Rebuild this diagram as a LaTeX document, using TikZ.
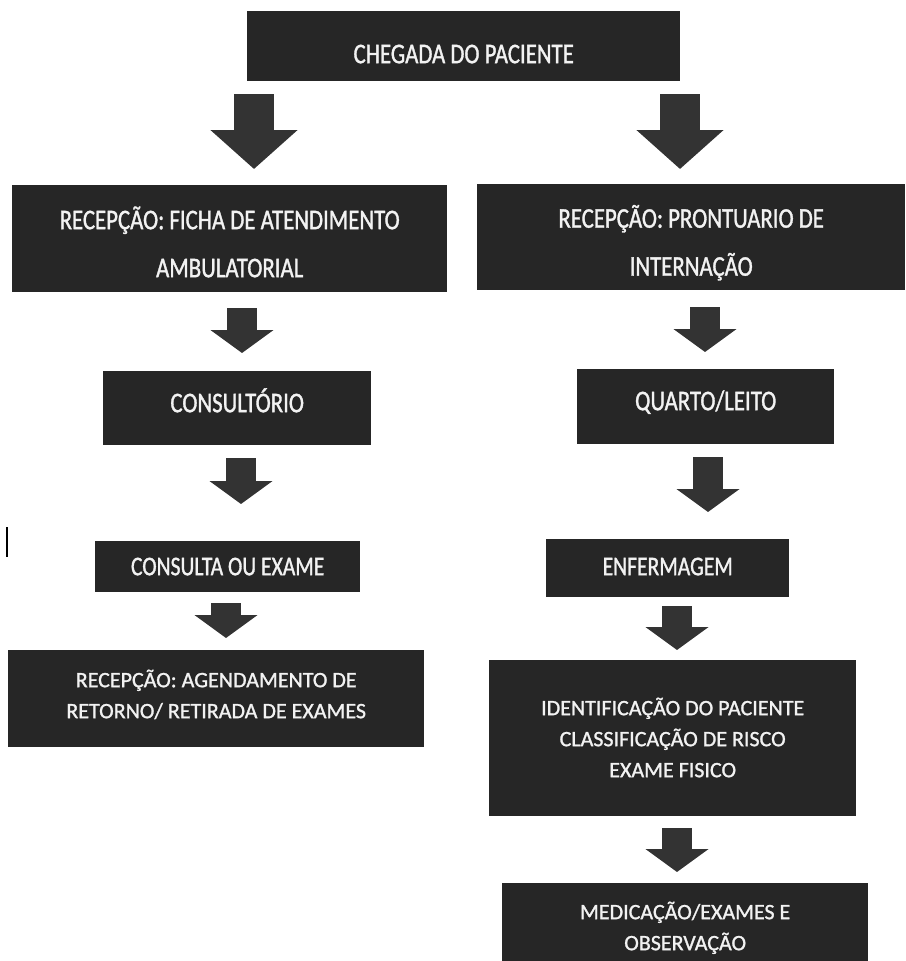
\documentclass[tikz,border=0pt]{standalone}
\usepackage{fontspec}
\newfontfamily\fontestreita[FakeStretch=0.8, FakeBold=1.2]{Carlito}
\newfontfamily\fontcaixa[FakeBold=1.2]{Carlito}
\usetikzlibrary{arrows.meta}
\definecolor{fundocaixa}{HTML}{262626}
\definecolor{corseta}{HTML}{333333}
\definecolor{letra}{HTML}{F2F2F2}

\begin{document}
\begin{tikzpicture}[x=1pt, y=-1pt,
  caixa/.style={fill=fundocaixa, text=letra, anchor=north west, inner sep=0pt, align=center},
  grande/.style={font=\fontestreita\fontsize{28.5}{48}\selectfont},
  media/.style={font=\fontestreita\fontsize{27}{30}\selectfont},
  pequena/.style={font=\fontcaixa\fontsize{22}{31}\selectfont},
  setag/.style={draw=corseta, line width=40pt, -{Triangle[length=39pt, width=85pt]}},
  setap/.style={draw=corseta, line width=30pt, -{Triangle[length=23pt, width=62pt]}}]
\useasboundingbox (0,0) rectangle (905,961);

% Nodes
\node[caixa, grande, text height=34pt, text depth=0pt, minimum width=433pt, minimum height=70pt] (chegada) at (247,11) {CHEGADA DO PACIENTE};
\node[caixa, grande, text height=77pt, text depth=0pt, minimum width=435pt, minimum height=107pt] (recamb) at (12,185) {RECEPÇÃO: FICHA DE ATENDIMENTO\\AMBULATORIAL};
\node[caixa, grande, text height=77pt, text depth=0pt, minimum width=428pt, minimum height=106pt] (recint) at (477,184) {RECEPÇÃO: PRONTUARIO DE\\INTERNAÇÃO};
\node[caixa, grande, text height=8pt, text depth=0pt, minimum width=268pt, minimum height=74pt] (consultorio) at (103,371) {CONSULTÓRIO};
\node[caixa, grande, text height=7pt, text depth=0pt, minimum width=257pt, minimum height=75pt] (quarto) at (577,369) {QUARTO/LEITO};
\node[caixa, media, text height=17pt, text depth=0pt, minimum width=265pt, minimum height=51pt] (consulta) at (95,541) {CONSULTA OU EXAME};
\node[caixa, media, text height=14pt, text depth=0pt, minimum width=243pt, minimum height=58pt] (enfermagem) at (546,539) {ENFERMAGEM};
\node[caixa, pequena, text height=39pt, text depth=0pt, minimum width=416pt, minimum height=97pt] (agendamento) at (8,650) {RECEPÇÃO: AGENDAMENTO DE\\RETORNO/ RETIRADA DE EXAMES};
\node[caixa, pequena, text height=78pt, text depth=0pt, minimum width=367pt, minimum height=156pt] (identificacao) at (489,660) {IDENTIFICAÇÃO DO PACIENTE\\CLASSIFICAÇÃO DE RISCO\\EXAME FISICO};
\node[caixa, pequena, text height=46pt, text depth=0pt, minimum width=366pt, minimum height=88pt] (medicacao) at (502,883) {MEDICAÇÃO/EXAMES E\\OBSERVAÇÃO};

% Edges
\draw[setag, shorten <=13pt, shorten >=16pt] (chegada.south -| 254,0) -- (recamb.north -| 254,0);
\draw[setag, shorten <=13pt, shorten >=15pt] (chegada.south -| 680,0) -- (recint.north -| 680,0);
\draw[setap, shorten <=16pt, shorten >=18pt] (recamb.south -| 242,0) -- (consultorio.north -| 242,0);
\draw[setap, shorten <=17pt, shorten >=17pt] (recint.south -| 705,0) -- (quarto.north -| 705,0);
\draw[setap, shorten <=13pt, shorten >=37pt] (consultorio.south -| 241,0) -- (consulta.north -| 241,0);
\draw[setap, shorten <=13pt, shorten >=27pt] (quarto.south -| 708,0) -- (enfermagem.north -| 708,0);
\draw[setap, shorten <=11pt, shorten >=12pt] (consulta.south -| 226,0) -- (agendamento.north -| 226,0);
\draw[setap, shorten <=9pt, shorten >=10pt] (enfermagem.south -| 677,0) -- (identificacao.north -| 677,0);
\draw[setap, shorten <=12pt, shorten >=11pt] (identificacao.south -| 677,0) -- (medicacao.north -| 677,0);

% marca solta na margem
\draw[line width=1.2pt] (7,527) -- (7,557);
\end{tikzpicture}
\end{document}
